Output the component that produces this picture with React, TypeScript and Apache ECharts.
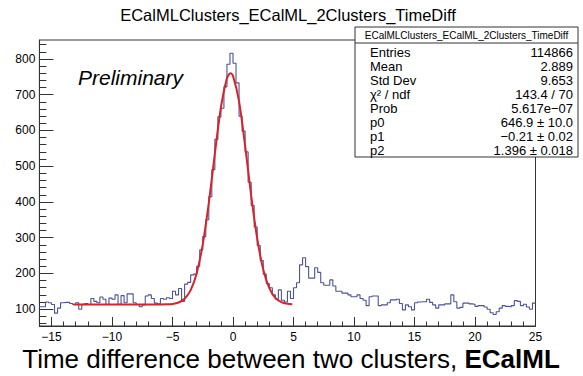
import React, { useEffect, useRef } from "react";
import * as echarts from "echarts";

const xMin = -16;
const xMax = 25;
const binWidth = 0.25;
const yMin = 53;
const yMax = 853;

// histogram counts, 164 bins of width 0.25 from -16 to 25
const counts = [
  107, 107, 120, 118, 113, 89, 103, 118, 119, 119, 116, 113, 118, 100, 114, 116, 113, 130, 122, 118,
  134, 128, 113, 131, 128, 140, 114, 138, 118, 143, 143, 118, 113, 107, 112, 137, 140, 130, 117, 115,
  130, 128, 132, 130,
  150, 140, 158, 122, 170, 175, 196, 198, 220, 266, 303, 350, 415, 490, 575, 638, 662, 722, 785, 816,
  788, 733, 640, 598, 540, 455, 390, 330, 278, 236, 198, 172, 160, 140, 128, 154, 125, 120, 150, 130,
  160, 174, 224, 244, 219, 187, 187, 216, 203, 174, 167, 167, 182, 165, 150, 150, 145, 145, 140, 135,
  135, 140, 130, 125, 110, 135, 137, 137, 110, 112, 112, 118, 126, 126, 128, 116, 98, 112, 107, 98,
  118, 120,
  121, 121, 128, 119, 112, 103, 112, 112, 115, 115, 140, 121, 103, 105, 117, 117, 115, 114, 108, 110,
  110, 106, 100, 90, 85, 93, 103, 110, 108, 107, 110, 124, 122, 110, 114, 106, 100, 117,
];

// fit curve (gaus + constant)
const fitX = [-13.2, -12, -10, -8, -6, -5.5, -5, -4.5, -4, -3.5, -3, -2.5, -2, -1.5, -1, -0.5, -0.21, 0, 0.5, 1, 1.5, 2, 2.5, 3, 3.5, 4, 4.5, 4.9];
const fitY = [113, 113, 113, 113, 113.1, 113.5, 114.8, 118.8, 129.2, 153.2, 200.7, 281.5, 397.4, 535.1, 664.2, 746.1, 759.9, 752.6, 681.4, 557.3, 418.5, 297.8, 211.3, 159, 131.9, 119.9, 115.2, 114];

const xMajorTicks = [-15, -10, -5, 0, 5, 10, 15, 20, 25];
const yMajorTicks = [100, 200, 300, 400, 500, 600, 700, 800];

const titleText = "ECalMLClusters_ECalML_2Clusters_TimeDiff";
const statsLabels = ["Entries", "Mean", "Std Dev", "\u03c7\u00b2 / ndf", "Prob", "p0", "p1", "p2"];
const statsValues = ["114866", "2.889", "9.653", "143.4 / 70", "5.617e\u221207", "646.9 \u00b1 10.0", "\u22120.21 \u00b1 0.02", "1.396 \u00b1 0.018"];

const FONT = "'Liberation Sans', Arial, Helvetica, sans-serif";

export default function App() {
  const ref = useRef<HTMLDivElement>(null);
  useEffect(() => {
    if (!ref.current) return;
    const chart = echarts.init(ref.current, undefined, { renderer: "svg" });

    const xMinorTicks: number[] = [];
    for (let v = xMin; v <= xMax; v += 1) xMinorTicks.push(v);
    const yMinorTicks: number[] = [];
    for (let v = 60; v <= 840; v += 20) yMinorTicks.push(v);

    const histData = counts.map((c, i) => [xMin + i * binWidth, c]);
    histData.push([xMax, counts[counts.length - 1]]);
    const fitData = fitX.map((x, i) => [x, fitY[i]]);

    const fmt = (v: number) => String(v).replace("-", "\u2212");
    const axisColor = "#333";

    const statsTop = 27;
    const statsLeft = 355;
    const statsRight = 578;
    const rowY0 = 52;
    const rowStep = 14;

    const statsChildren: any[] = [
      {
        type: "rect",
        shape: { x: statsLeft, y: statsTop, width: statsRight - statsLeft, height: 130 },
        style: { fill: "#fff", stroke: axisColor, lineWidth: 1 },
      },
      {
        type: "line",
        shape: { x1: statsLeft, y1: 43, x2: statsRight, y2: 43 },
        style: { stroke: axisColor, lineWidth: 1 },
      },
      {
        type: "text",
        x: (statsLeft + statsRight) / 2,
        y: 35,
        style: { text: titleText, font: `10px ${FONT}`, fill: "#000", align: "center", verticalAlign: "middle" },
      },
    ];
    statsLabels.forEach((lab, i) => {
      statsChildren.push({
        type: "text",
        x: 370,
        y: rowY0 + i * rowStep,
        style: { text: lab, font: `13px ${FONT}`, fill: "#000", align: "left", verticalAlign: "middle" },
      });
      statsChildren.push({
        type: "text",
        x: 573,
        y: rowY0 + i * rowStep,
        style: { text: statsValues[i], font: `13px ${FONT}`, fill: "#000", align: "right", verticalAlign: "middle" },
      });
    });

    chart.setOption({
      animation: false,
      backgroundColor: "#fff",
      grid: {
        left: 39.4,
        right: 47.5,
        top: 40,
        bottom: 50,
        show: true,
        borderColor: axisColor,
        borderWidth: 1,
        backgroundColor: "transparent",
      },
      xAxis: [
        {
          type: "value",
          min: xMin,
          max: xMax,
          position: "bottom",
          axisLine: { show: true, onZero: false, lineStyle: { color: axisColor, width: 1 } },
          axisTick: { show: true, inside: true, length: 9, customValues: xMajorTicks, lineStyle: { color: axisColor } },
          axisLabel: {
            show: true,
            customValues: xMajorTicks,
            formatter: fmt,
            margin: 5,
            color: "#000",
            fontSize: 12,
            fontFamily: FONT,
          },
          splitLine: { show: false },
        },
        {
          type: "value",
          min: xMin,
          max: xMax,
          position: "bottom",
          offset: 0,
          axisLine: { show: false, onZero: false },
          axisTick: { show: true, inside: true, length: 4.5, customValues: xMinorTicks, lineStyle: { color: axisColor } },
          axisLabel: { show: false },
          splitLine: { show: false },
        },
      ],
      yAxis: [
        {
          type: "value",
          min: yMin,
          max: yMax,
          position: "left",
          axisLine: { show: true, onZero: false, lineStyle: { color: axisColor, width: 1 } },
          axisTick: { show: true, inside: true, length: 14, customValues: yMajorTicks, lineStyle: { color: axisColor } },
          axisLabel: {
            show: true,
            customValues: yMajorTicks,
            margin: 4,
            color: "#000",
            fontSize: 12,
            fontFamily: FONT,
          },
          splitLine: { show: false },
        },
        {
          type: "value",
          min: yMin,
          max: yMax,
          position: "left",
          offset: 0,
          axisLine: { show: false, onZero: false },
          axisTick: { show: true, inside: true, length: 7, customValues: yMinorTicks, lineStyle: { color: axisColor } },
          axisLabel: { show: false },
          splitLine: { show: false },
        },
      ],
      series: [
        {
          type: "line",
          xAxisIndex: 0,
          yAxisIndex: 0,
          data: histData,
          step: "end",
          symbol: "none",
          lineStyle: { color: "#4c5494", width: 1.1 },
          z: 2,
        },
        {
          type: "line",
          xAxisIndex: 0,
          yAxisIndex: 0,
          data: fitData,
          smooth: 0.3,
          symbol: "none",
          lineStyle: { color: "#d8232a", width: 2 },
          z: 3,
        },
      ],
      graphic: [
        {
          type: "text",
          x: 288,
          y: 15,
          style: { text: titleText, font: `16.5px ${FONT}`, fill: "#000", align: "center", verticalAlign: "middle" },
        },
        {
          type: "text",
          x: 78,
          y: 77,
          style: { text: "Preliminary", font: `italic 21px ${FONT}`, fill: "#000", align: "left", verticalAlign: "middle" },
        },
        {
          type: "group",
          z: 100,
          children: statsChildren,
        },
        {
          type: "text",
          x: 291,
          y: 359,
          style: {
            text: "{n|Time difference between two clusters, }{b|ECalML}",
            align: "center",
            verticalAlign: "middle",
            rich: {
              n: { fontSize: 26, fontFamily: FONT, fill: "#000", color: "#000" },
              b: { fontSize: 26, fontFamily: FONT, fontWeight: "bold", fill: "#000", color: "#000" },
            },
          },
        },
      ],
    });
    return () => chart.dispose();
  }, []);
  return (
    <div
      ref={ref}
      style={{ position: "fixed", left: 0, top: 0, width: 583, height: 376, background: "#fff" }}
    />
  );
}
